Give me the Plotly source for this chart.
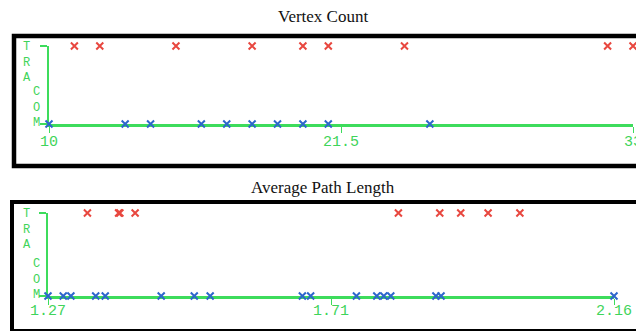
import plotly.graph_objects as go

# ---- data -----------------------------------------------------------------
groups = ["COM", "TRA"]          # bottom row, top row

vertex_com = [10, 13, 14, 16, 17, 18, 19, 20, 21, 25]
vertex_tra = [11, 12, 15, 18, 20, 21, 24, 32, 33]
vertex_ticks = [10, 21.5, 33]
vertex_ticktext = ["10", "21.5", "33"]

apl_com = [1.27, 1.294, 1.306, 1.345, 1.36, 1.448, 1.50, 1.525, 1.67, 1.683,
           1.755, 1.787, 1.798, 1.809, 1.88, 1.888, 2.16]
apl_tra = [1.332, 1.381, 1.383, 1.407, 1.821, 1.886, 1.919, 1.962, 2.012]
apl_ticks = [1.27, 1.715, 2.16]
apl_ticktext = ["1.27", "1.71", "2.16"]

titles = ["Vertex Count", "Average Path Length"]

# ---- styling --------------------------------------------------------------
W, H = 636, 331
GREEN = "#3ddc5c"
GREEN_TXT = "#3fd45a"
RED = "#e8473f"
BLUE = "#2d66cc"
MONO = "Liberation Mono, Courier New, monospace"
SERIF = "Liberation Serif, DejaVu Serif, serif"


def fx(p):
    return p / W


def fy(p):
    return 1 - p / H


# pixel frames of the two strip panels: (x_left, x_right, y_top, y_bottom)
frames = [(49, 633, 46, 124), (48, 614, 213, 296)]
borders = [(14, 36, 166, 4.5), (12, 202, 331, 4)]
title_y = [16, 187]
label_standoff = [-5, -8]

fig = go.Figure()

panels = [
    (vertex_com, vertex_tra, vertex_ticks, vertex_ticktext),
    (apl_com, apl_tra, apl_ticks, apl_ticktext),
]

annotations = []
shapes = []
for i, (com, tra, tvals, ttext) in enumerate(panels):
    xa = "x" if i == 0 else "x2"
    ya = "y" if i == 0 else "y2"
    xl, xr, yt, yb = frames[i]

    fig.add_trace(go.Scatter(
        x=com, y=[0] * len(com), xaxis=xa, yaxis=ya, mode="markers",
        marker=dict(symbol="x-thin", size=7, line=dict(color=BLUE, width=2)),
        cliponaxis=False, showlegend=False, hoverinfo="x"))
    fig.add_trace(go.Scatter(
        x=tra, y=[1] * len(tra), xaxis=xa, yaxis=ya, mode="markers",
        marker=dict(symbol="x-thin", size=7, line=dict(color=RED, width=2)),
        cliponaxis=False, showlegend=False, hoverinfo="x"))

    xkey = "xaxis" if i == 0 else "xaxis2"
    ykey = "yaxis" if i == 0 else "yaxis2"
    fig.update_layout(**{
        xkey: dict(
            domain=[fx(xl), fx(xr)], anchor=ya, range=[tvals[0], tvals[-1]],
            showgrid=False, zeroline=False, showline=True, linecolor=GREEN,
            linewidth=2.5, layer="below traces", automargin=False,
            tickmode="array", tickvals=tvals, ticktext=ttext,
            ticks="outside", ticklen=6, tickwidth=1, tickcolor=GREEN,
            ticklabeloverflow="allow", ticklabelstandoff=label_standoff[i],
            tickfont=dict(family=MONO, size=15, color=GREEN_TXT),
            fixedrange=True),
        ykey: dict(
            domain=[fy(yb), fy(yt)], anchor=xa, range=[0, 1],
            showgrid=False, zeroline=False, showline=True, linecolor=GREEN,
            linewidth=1.5, layer="below traces", automargin=False,
            tickmode="array", tickvals=[0, 1], showticklabels=False,
            ticks="outside", ticklen=7, tickwidth=1.5, tickcolor=GREEN,
            fixedrange=True),
    })

    # stacked group names beside the y ticks
    annotations.append(dict(
        text="<br>".join(groups[1]), xref="paper", yref=ya, x=fx(27), y=1,
        yshift=8, showarrow=False, xanchor="center", yanchor="top",
        font=dict(family=MONO, size=12, color=GREEN_TXT)))
    annotations.append(dict(
        text="<br>".join(groups[0]), xref="paper", yref=ya, x=fx(36), y=0,
        yshift=-8, showarrow=False, xanchor="center", yanchor="bottom",
        font=dict(family=MONO, size=12, color=GREEN_TXT)))

    annotations.append(dict(
        text=titles[i], xref="paper", yref="paper", x=fx(323),
        y=fy(title_y[i]), showarrow=False, xanchor="center", yanchor="middle",
        font=dict(family=SERIF, size=17, color="#111111")))

    bx, by0, by1, bw = borders[i]
    shapes.append(dict(
        type="rect", xref="paper", yref="paper", x0=fx(bx), x1=fx(W + 10),
        y0=fy(by1), y1=fy(by0), line=dict(color="black", width=bw),
        layer="below"))

fig.update_layout(
    width=W, height=H,
    margin=dict(l=0, r=0, t=0, b=0, pad=0, autoexpand=False),
    paper_bgcolor="white", plot_bgcolor="white",
    annotations=annotations, shapes=shapes,
)

fig.write_html("out.html")
